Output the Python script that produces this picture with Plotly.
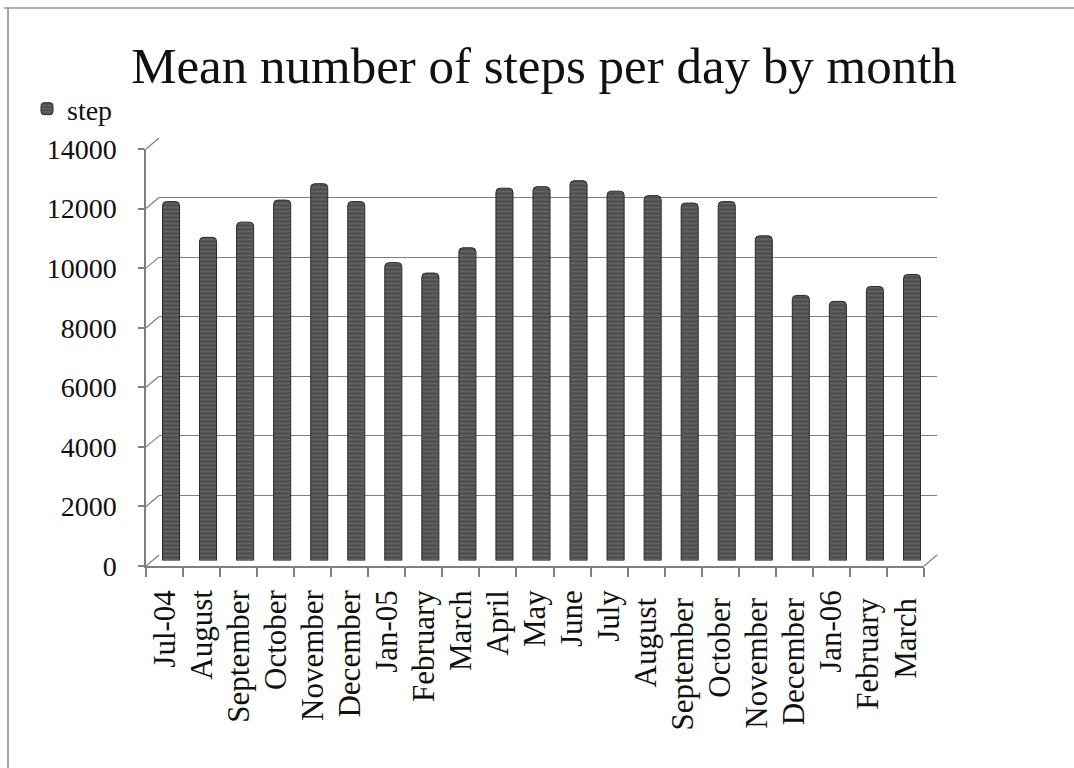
import plotly.graph_objects as go

# Mean steps per day, July 2004 - March 2006
months = ["Jul-04", "August", "September", "October", "November", "December",
          "Jan-05", "February", "March", "April", "May", "June", "July",
          "August ", "September ", "October ", "November ", "December ",
          "Jan-06", "February ", "March "]
steps = [12050, 10850, 11360, 12100, 12650, 12050, 10000, 9650, 10500,
         12500, 12550, 12750, 12400, 12250, 12000, 12050, 10900, 8900,
         8700, 9200, 9600]
y_ticks = [0, 2000, 4000, 6000, 8000, 10000, 12000, 14000]

W, H = 1074, 768
FONT = "Liberation Serif"
LINE = "#7f7f7f"


def px_x(x):
    return x / W


def px_y(y):
    return 1 - y / H


# pixel geometry of the pseudo-3D box: front face, bar plane, back wall
front = dict(x0=146, x1=924, y0=566, y14=149)
mid = dict(x0=152.5, x1=930.5, y0=560.5, y14=143.5)
back = dict(x0=159, x1=937, y0=555, y14=138)

fig = go.Figure()

# back wall: only provides the horizontal gridlines
fig.add_trace(go.Bar(x=months, y=steps, xaxis="x", yaxis="y", opacity=0,
                     showlegend=False, hoverinfo="skip"))

# the columns
fig.add_trace(go.Bar(
    x=months, y=steps, xaxis="x2", yaxis="y2", name="step", width=0.46,
    marker=dict(color="#555555", cornerradius=4,
                line=dict(color="#2a2a2a", width=1),
                pattern=dict(shape="-", fgcolor="#2a2a2a", bgcolor="#626262",
                             size=4, solidity=0.4)),
    showlegend=True,
))

# front face: axis lines, ticks and labels
fig.add_trace(go.Bar(x=months, y=steps, xaxis="x3", yaxis="y3", opacity=0,
                     showlegend=False, hoverinfo="skip"))

hidden = dict(showgrid=False, zeroline=False, showline=False, showticklabels=False,
              ticks="")

fig.update_layout(
    width=W, height=H,
    margin=dict(l=0, r=0, t=0, b=0, autoexpand=False),
    paper_bgcolor="white", plot_bgcolor="rgba(0,0,0,0)",
    font=dict(family=FONT, color="#111111"),
    title=dict(text="Mean number of steps per day by month",
               x=px_x(544), xanchor="center", y=px_y(65), yanchor="middle",
               font=dict(family=FONT, size=51, color="#111111")),
    legend=dict(x=px_x(27), y=px_y(109), xanchor="left", yanchor="middle",
                font=dict(family=FONT, size=28, color="#111111"),
                itemwidth=30, bgcolor="rgba(0,0,0,0)"),
    xaxis=dict(domain=[px_x(back["x0"]), px_x(back["x1"])], type="category",
               range=[-0.5, len(months) - 0.5], **hidden),
    yaxis=dict(domain=[px_y(back["y0"]), px_y(back["y14"])], range=[0, 14000],
               tickvals=y_ticks, showgrid=True, gridcolor=LINE, gridwidth=1.2,
               zeroline=False, showline=False, showticklabels=False, ticks=""),
    xaxis2=dict(domain=[px_x(mid["x0"]), px_x(mid["x1"])], type="category",
                range=[-0.5, len(months) - 0.5], anchor="y2", **hidden),
    yaxis2=dict(domain=[px_y(mid["y0"]), px_y(mid["y14"])], range=[0, 14000],
                anchor="x2", **hidden),
    xaxis3=dict(domain=[px_x(front["x0"]), px_x(front["x1"])], type="category",
                range=[-0.5, len(months) - 0.5], anchor="y3",
                tickmode="array", tickvals=months, ticktext=months,
                showline=True, linecolor=LINE, linewidth=1.5,
                ticks="outside", tickson="boundaries", ticklen=9,
                tickcolor=LINE, tickwidth=1.5, tickangle=-90,
                tickfont=dict(family=FONT, size=31, color="#111111"),
                ticklabelstandoff=10, showgrid=False, zeroline=False),
    yaxis3=dict(domain=[px_y(front["y0"]), px_y(front["y14"])], range=[0, 14000],
                anchor="x3", tickvals=y_ticks, tickformat="d", showline=True,
                linecolor=LINE, linewidth=1.5, ticks="outside", ticklen=6,
                tickcolor=LINE, tickwidth=1.5,
                tickfont=dict(family=FONT, size=28, color="#111111"),
                ticklabelstandoff=16, showgrid=False, zeroline=False),
)

shapes = []
# side wall: short diagonals joining the front ticks to the back gridlines
for v in y_ticks:
    fy = front["y0"] + (front["y14"] - front["y0"]) * v / 14000
    by = back["y0"] + (back["y14"] - back["y0"]) * v / 14000
    shapes.append(dict(type="line", xref="paper", yref="paper",
                       x0=px_x(front["x0"]), y0=px_y(fy),
                       x1=px_x(back["x0"]), y1=px_y(by),
                       line=dict(color=LINE, width=1.2), layer="below"))
# right edge of the floor
shapes.append(dict(type="line", xref="paper", yref="paper",
                   x0=px_x(front["x1"]), y0=px_y(front["y0"]),
                   x1=px_x(back["x1"]), y1=px_y(back["y0"]),
                   line=dict(color=LINE, width=1.2)))
# outer frame of the chart area
shapes.append(dict(type="line", xref="paper", yref="paper",
                   x0=px_x(4), y0=px_y(8), x1=1, y1=px_y(8),
                   line=dict(color="#9a9a9a", width=1.5)))
shapes.append(dict(type="line", xref="paper", yref="paper",
                   x0=px_x(8), y0=px_y(8), x1=px_x(8), y1=0,
                   line=dict(color="#8a8a8a", width=1.5)))
fig.update_layout(shapes=shapes)

fig.write_html("out.html")
